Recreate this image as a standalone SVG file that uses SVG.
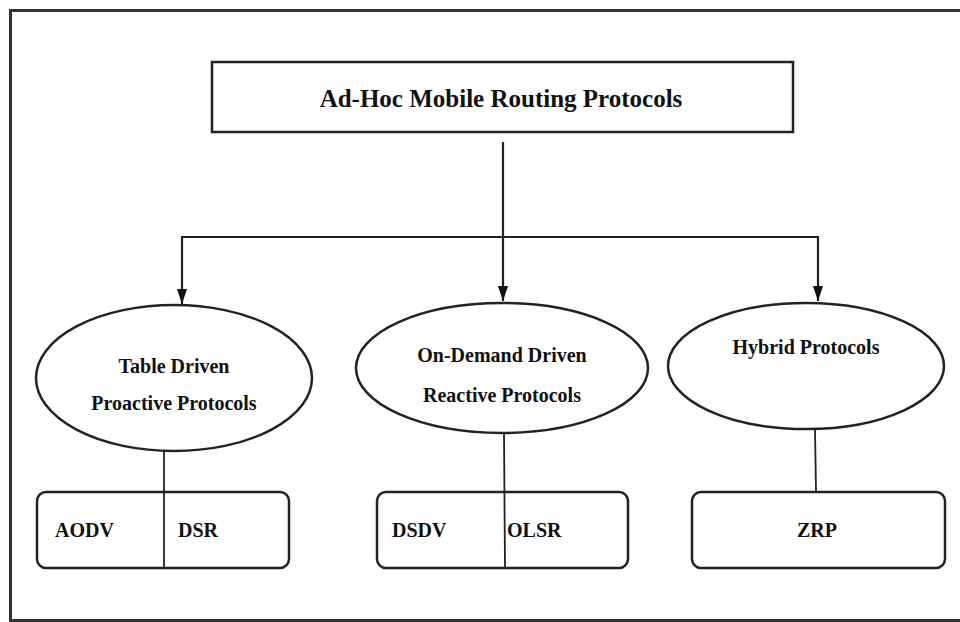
<svg xmlns="http://www.w3.org/2000/svg" width="960" height="622" viewBox="0 0 960 622">
<defs>
<style>
.frame{fill:#fff;stroke:#333;stroke-width:3}
.node{fill:#fff;stroke:#222;stroke-width:2.5}
.conn{fill:none;stroke:#222;stroke-width:2.2}
.thin{fill:none;stroke:#222;stroke-width:1.8}
text{font-family:"Liberation Serif","Times New Roman",serif;font-weight:bold;fill:#111;text-anchor:middle}
.t1{font-size:25px}
.t2{font-size:20px}
.t3{font-size:20px;text-anchor:start}
</style>
<marker id="ah" viewBox="0 0 15 10" refX="15" refY="5" markerWidth="15" markerHeight="10" markerUnits="userSpaceOnUse" orient="auto">
<path d="M0,0 L15,5 L0,10 Z" fill="#111"/>
</marker>
</defs>
<rect x="0" y="0" width="960" height="622" fill="#fff"/>
<path class="frame" d="M962,10.5 L10.5,10.5 L10.5,620.5 L962,620.5"/>
<g id="root">
<rect class="node" x="212" y="62" width="581" height="70"/>
<text class="t1" x="501" y="107">Ad-Hoc Mobile Routing Protocols</text>
</g>
<g id="proactive">
<ellipse class="node" cx="174" cy="378" rx="138" ry="73"/>
<text class="t2" x="174" y="373">Table Driven</text>
<text class="t2" x="174" y="410">Proactive Protocols</text>
</g>
<g id="reactive">
<ellipse class="node" cx="502" cy="368" rx="146" ry="65"/>
<text class="t2" x="502" y="362">On-Demand Driven</text>
<text class="t2" x="502" y="402">Reactive Protocols</text>
</g>
<g id="hybrid">
<ellipse class="node" cx="806" cy="366" rx="138" ry="63"/>
<text class="t2" x="806" y="354">Hybrid Protocols</text>
</g>
<g id="box-proactive">
<rect class="node" x="37" y="492" width="252" height="76" rx="9"/>
<text class="t3" x="55" y="537">AODV</text>
<text class="t3" x="178" y="537">DSR</text>
</g>
<g id="box-reactive">
<rect class="node" x="377" y="492" width="251" height="76" rx="9"/>
<text class="t3" x="392" y="537">DSDV</text>
<text class="t3" x="507" y="537">OLSR</text>
</g>
<g id="box-hybrid">
<rect class="node" x="692" y="492" width="253" height="76" rx="9"/>
<text class="t2" x="817" y="537">ZRP</text>
</g>
<g id="connectors">
<line class="conn" x1="503" y1="142" x2="503" y2="237"/>
<line class="conn" x1="181" y1="237" x2="818" y2="237"/>
<line class="conn" x1="182" y1="236" x2="182" y2="304" marker-end="url(#ah)"/>
<line class="conn" x1="503" y1="236" x2="503" y2="301" marker-end="url(#ah)"/>
<line class="conn" x1="818" y1="236" x2="818" y2="301" marker-end="url(#ah)"/>
<line class="thin" x1="164" y1="451" x2="164" y2="568"/>
<line class="thin" x1="504" y1="433" x2="505" y2="568"/>
<line class="thin" x1="815" y1="429" x2="816" y2="492"/>
</g>
</svg>
